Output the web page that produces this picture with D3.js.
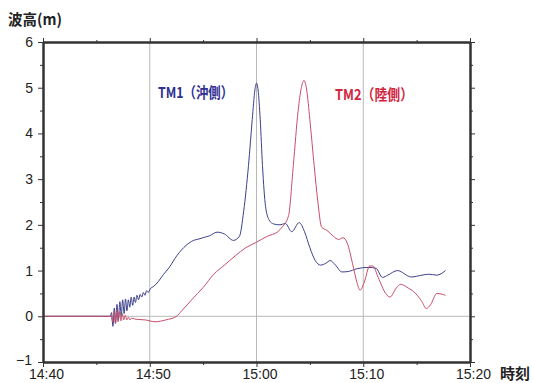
<!DOCTYPE html>
<html>
<head>
<meta charset="utf-8">
<script src="https://cdn.jsdelivr.net/npm/d3@7"></script>
<style>
  body { margin: 0; background: #fff; }
  svg { display: block; font-family: "Liberation Sans", Arial, sans-serif; }
  .cjk { font-family: "Noto Sans CJK JP", sans-serif; }
</style>
</head>
<body>
<script>
// minutes after 14:40 and wave height (m)
const tm1Minutes = [0, 6.3, 6.42, 6.55, 6.68, 6.8, 6.93, 7.06, 7.2, 7.33, 7.46, 7.6, 7.73, 7.86, 8.0, 8.13, 8.26, 8.4, 8.53, 8.66, 8.8, 8.95, 9.1, 9.25, 9.4, 9.55, 9.7, 9.85, 10.05,
  10.4, 10.8, 11.3, 11.8, 12.55, 13.4, 14.1, 14.6, 15.0, 15.6, 16.3, 17.0, 17.84, 18.4, 18.8, 19.25, 19.6, 19.85, 20.0, 20.15, 20.35, 20.56, 20.85, 21.2,
  21.6, 22.2, 22.7, 23.3, 24.0, 24.5, 25.0, 25.5, 26.0, 26.5, 26.9, 27.4, 28.0, 28.6, 29.4, 30.5, 31.2, 31.8, 32.3, 33.2, 34.5, 35.5, 36.1, 36.9, 37.7];
const tm1Values = [0, 0, 0.08, -0.22, 0.18, -0.15, 0.26, -0.08, 0.32, 0.0, 0.36, 0.06, 0.38, 0.12, 0.36, 0.2, 0.42, 0.24, 0.42, 0.3, 0.46, 0.36, 0.48, 0.42, 0.52, 0.46, 0.56, 0.52, 0.6,
  0.66, 0.76, 0.92, 1.06, 1.33, 1.55, 1.66, 1.69, 1.72, 1.76, 1.84, 1.8, 1.66, 1.75, 2.3, 3.3, 4.3, 4.95, 5.1, 4.95, 4.3, 3.3, 2.4, 2.1,
  2.02, 2.0, 2.03, 1.85, 2.05, 1.85, 1.5, 1.22, 1.12, 1.16, 1.22, 1.12, 0.97, 0.98, 1.04, 1.07, 1.05, 0.85, 0.9, 1.0, 0.86, 0.9, 0.92, 0.9, 1.0];

const tm2Minutes = [0, 6.4, 6.52, 6.65, 6.78, 6.9, 7.03, 7.16, 7.3, 7.43, 7.56, 7.7, 7.85, 8.0, 8.15, 8.3, 8.6, 9.0, 9.6, 10.5, 11.5, 12.5, 13.0, 14.0, 15.0, 16.0, 17.0, 18.0, 19.0, 20.0, 21.0, 22.0, 22.4,
  23.0, 23.45, 23.9, 24.2, 24.45, 24.7, 25.0, 25.4, 25.75, 26.1, 26.6, 27.2, 27.7, 28.1, 28.5, 29.0, 29.4, 29.7, 30.1, 30.6, 30.9, 31.4, 32.1, 32.5, 33.1, 33.5, 34.2, 34.9, 35.5, 35.9, 36.3, 36.9, 37.7];
const tm2Values = [0, 0, -0.12, 0.1, -0.16, 0.14, -0.12, 0.1, -0.1, 0.06, -0.08, 0.02, -0.08, -0.02, -0.08, -0.04, -0.06, -0.07, -0.08, -0.12, -0.08, 0.0, 0.12, 0.38, 0.63, 0.92, 1.12, 1.32, 1.5, 1.62, 1.75, 1.85, 1.95,
  2.2, 3.3, 4.5, 5.0, 5.16, 4.95, 4.3, 3.3, 2.5, 1.95, 1.88, 1.75, 1.68, 1.72, 1.6, 1.15, 0.75, 0.57, 0.75, 1.1, 1.1, 0.85, 0.5, 0.42, 0.62, 0.7, 0.62, 0.5, 0.32, 0.17, 0.25, 0.5, 0.46];

const yTicks = [-1, 0, 1, 2, 3, 4, 5, 6];
const xTickLabels = ['14:40', '14:50', '15:00', '15:10', '15:20'];
const seriesNames = ['TM1（沖側）', 'TM2（陸側）'];

const W = 533, H = 383;
const m = { left: 43, right: 63, top: 42, bottom: 21 };
const start = new Date(2011, 2, 11, 14, 40);
const toDate = min => new Date(start.getTime() + min * 60000);

const svg = d3.select('body').append('svg')
  .attr('width', W)
  .attr('height', H);

const x = d3.scaleTime()
  .domain([start, toDate(40)])
  .range([m.left, W - m.right]);
const y = d3.scaleLinear()
  .domain([-1, 6])
  .range([H - m.bottom, m.top]);

// grid
svg.append('g').selectAll('line')
  .data([10, 20, 30])
  .join('line')
  .attr('x1', d => x(toDate(d))).attr('x2', d => x(toDate(d)))
  .attr('y1', y(6)).attr('y2', y(-1))
  .attr('stroke', '#b8b8b8').attr('stroke-width', 1);
svg.append('line')
  .attr('x1', x(start)).attr('x2', x(toDate(40)))
  .attr('y1', y(0)).attr('y2', y(0))
  .attr('stroke', '#b8b8b8').attr('stroke-width', 1);

// lines
const line = d3.line()
  .x(d => x(toDate(d[0])))
  .y(d => y(d[1]))
  .curve(d3.curveMonotoneX);

svg.append('path')
  .datum(d3.zip(tm1Minutes, tm1Values))
  .attr('fill', 'none')
  .attr('stroke', '#3c3f8c')
  .attr('stroke-width', 1)
  .attr('d', line);
svg.append('path')
  .datum(d3.zip(tm2Minutes, tm2Values))
  .attr('fill', 'none')
  .attr('stroke', '#c84e6a')
  .attr('stroke-width', 1)
  .attr('d', line);

// axes
const majorX = d3.range(0, 41, 10).map(toDate);
const minorX = d3.range(5, 40, 10).map(toDate);

function styleAxis(g) {
  g.select('.domain').attr('stroke', '#333').attr('stroke-width', 2);
  g.selectAll('.tick line').attr('stroke', '#333');
  g.selectAll('.tick text').attr('fill', '#222').attr('font-size', 14);
}

svg.append('g')
  .attr('transform', `translate(0,${y(-1)})`)
  .call(d3.axisBottom(x).tickValues(minorX).tickSize(3).tickFormat('').tickSizeOuter(0))
  .call(styleAxis);
svg.append('g')
  .attr('transform', `translate(0,${y(-1)})`)
  .call(d3.axisBottom(x).tickValues(majorX).tickSize(5).tickFormat((d, i) => xTickLabels[i]).tickSizeOuter(0))
  .call(styleAxis)
  .call(g => g.selectAll('.tick text').attr('y', 7).attr('dy', '0.68em').attr('dx', 3));

svg.append('g')
  .attr('transform', `translate(0,${y(6)})`)
  .call(d3.axisTop(x).tickValues(minorX).tickSize(2).tickFormat('').tickSizeOuter(0))
  .call(styleAxis);
svg.append('g')
  .attr('transform', `translate(0,${y(6)})`)
  .call(d3.axisTop(x).tickValues(majorX).tickSize(4).tickFormat('').tickSizeOuter(0))
  .call(styleAxis);

const minorY = d3.range(-0.5, 6, 1);
svg.append('g')
  .attr('transform', `translate(${x(start)},0)`)
  .call(d3.axisLeft(y).tickValues(minorY).tickSize(3).tickFormat('').tickSizeOuter(0))
  .call(styleAxis);
svg.append('g')
  .attr('transform', `translate(${x(start)},0)`)
  .call(d3.axisLeft(y).tickValues(yTicks).tickSize(5).tickFormat(d3.format('d')).tickSizeOuter(0))
  .call(styleAxis)
  .call(g => g.selectAll('.tick text').attr('x', -10))
  .call(g => g.selectAll('.tick').filter(d => d === -1).select('text').attr('dy', '0.2em').attr('x', -11));

svg.append('g')
  .attr('transform', `translate(${x(toDate(40))},0)`)
  .call(d3.axisRight(y).tickValues(minorY).tickSize(3).tickFormat('').tickSizeOuter(0))
  .call(styleAxis);
svg.append('g')
  .attr('transform', `translate(${x(toDate(40))},0)`)
  .call(d3.axisRight(y).tickValues(yTicks).tickSize(5).tickFormat('').tickSizeOuter(0))
  .call(styleAxis);

// titles
svg.append('text')
  .attr('class', 'cjk')
  .attr('x', 8).attr('y', 25)
  .attr('font-size', 15).attr('font-weight', 'bold').attr('fill', '#222')
  .attr('textLength', 54).attr('lengthAdjust', 'spacingAndGlyphs')
  .text('波高(m)');
svg.append('text')
  .attr('class', 'cjk')
  .attr('x', 500).attr('y', 379)
  .attr('font-size', 15).attr('font-weight', 'bold').attr('fill', '#222')
  .text('時刻');

// series labels
svg.append('text')
  .attr('class', 'cjk')
  .attr('x', 158).attr('y', 98)
  .attr('font-size', 15).attr('font-weight', 'bold').attr('fill', '#2e3192')
  .attr('textLength', 75).attr('lengthAdjust', 'spacingAndGlyphs')
  .text(seriesNames[0]);
svg.append('text')
  .attr('class', 'cjk')
  .attr('x', 335).attr('y', 100)
  .attr('font-size', 15).attr('font-weight', 'bold').attr('fill', '#d0253e')
  .attr('textLength', 78).attr('lengthAdjust', 'spacingAndGlyphs')
  .text(seriesNames[1]);
</script>
</body>
</html>
